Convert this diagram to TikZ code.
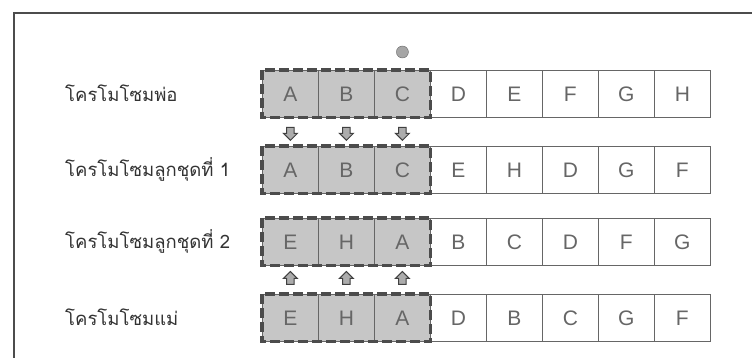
\documentclass[tikz,border=0pt]{standalone}
\usepackage{fontspec}
\setmainfont{Liberation Sans}
\newfontfamily\thaifont[Script=Thai]{Loma}
\usetikzlibrary{shapes.arrows,calc}
\tikzset{
  cell/.style={draw=black!60, line width=0.8pt, minimum width=56pt, minimum height=47pt,
    inner sep=0pt, anchor=north west, font=\fontsize{21}{21}\selectfont, text=black!60},
  shaded/.style={fill=gray!45},
  grpdash/.style={draw=black!70, line width=3.2pt, dash pattern=on 10pt off 4pt},
  rowlabel/.style={anchor=west, inner sep=0pt, font=\thaifont\fontsize{18.5}{18.5}\selectfont, text=black!80},
  blockarrow/.style={single arrow, draw=black!75, fill=gray!65, line width=1pt,
    minimum height=13pt, minimum width=14pt, single arrow head extend=2.5pt, inner sep=2.5pt},
  frame/.style={draw=black!70, line width=1.5pt}
}
\begin{document}
\begin{tikzpicture}[x=1pt,y=-1pt]
\useasboundingbox (0,0) rectangle (752,358);
\draw[frame] (14,358) -- (14,13) -- (752,13);
\foreach \r/\t/\S/\W/\lab in {
  1/70/{A,B,C}/{D,E,F,G,H}/{โครโมโซมพ่อ},
  2/146/{A,B,C}/{E,H,D,G,F}/{โครโมโซมลูกชุดที่ 1},
  3/218/{E,H,A}/{B,C,D,F,G}/{โครโมโซมลูกชุดที่ 2},
  4/294/{E,H,A}/{D,B,C,G,F}/{โครโมโซมแม่}} {
  \foreach \L [count=\i] in \S {
    \node[cell, shaded] (c\r\i) at ({262+(\i-1)*56}, \t) {\L};
  }
  \foreach \L [count=\i] in \W {
    \node[cell] (w\r\i) at ({262+(\i+2)*56}, \t) {\L};
  }
  \draw[grpdash] (c\r1.north west) rectangle (c\r3.south east);
  \node[rowlabel] (lab\r) at (65, {\t+23.5}) {\lab};
}
\foreach \i in {1,2,3} {
  \node[blockarrow, shape border rotate=270] (dn\i) at ($(c1\i.south)!0.5!(c2\i.north)$) {};
  \node[blockarrow, shape border rotate=90] (up\i) at ($(c4\i.north)!0.5!(c3\i.south)$) {};
}
\node[circle, fill=gray!70, draw=black!60, minimum size=12pt, inner sep=0pt] (dot) at ($(c13.north)+(0,-18)$) {};
\end{tikzpicture}
\end{document}
